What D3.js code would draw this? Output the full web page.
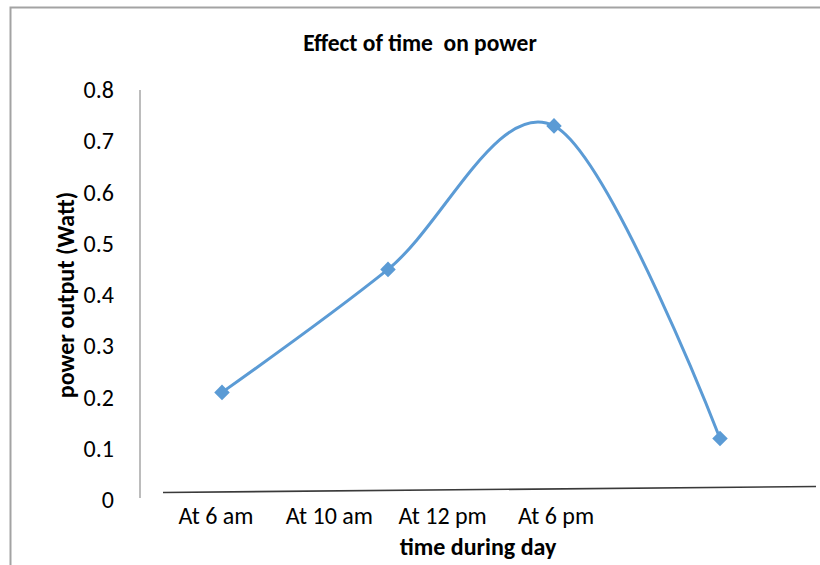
<!DOCTYPE html>
<html>
<head>
<meta charset="utf-8">
<script src="https://cdn.jsdelivr.net/npm/d3@7"></script>
<style>
  html, body { margin: 0; padding: 0; background: #fff; }
  svg { display: block; }
</style>
</head>
<body>
<svg id="chart" width="820" height="565"></svg>
<script>
// ---- data ----
const categories = ["At 6 am", "At 10 am", "At 12 pm", "At 6 pm"];
const powerValues = [0.21, 0.45, 0.73, 0.12];
const yTickValues = [0, 0.1, 0.2, 0.3, 0.4, 0.5, 0.6, 0.7, 0.8];
const yTickLabels = ["0", "0.1", "0.2", "0.3", "0.4", "0.5", "0.6", "0.7", "0.8"];
const chartTitle = "Effect of time  on power";
const xTitle = "time during day";
const yTitle = "power output (Watt)";

const svg = d3.select("#chart");
const FONT = "Carlito, Calibri, 'Open Sans', sans-serif";
const blue = "#5b9bd5";

// frame
svg.append("path")
  .attr("d", "M10.5,565 L10.5,7.5 L820,7.5")
  .attr("fill", "none").attr("stroke", "#a3a3a3").attr("stroke-width", 2);

// scales
const y = d3.scaleLinear().domain([0, 0.8]).range([500, 90]);
const xPt = d3.scalePoint().domain(categories).range([222, 720]);
const xLab = d3.scalePoint().domain(categories).range([216, 556]);

// y axis
const yAxis = d3.axisLeft(y)
  .tickValues(yTickValues)
  .tickFormat((d, i) => yTickLabels[i])
  .tickSize(0)
  .tickPadding(26);
const gy = svg.append("g").attr("transform", "translate(140,0)").call(yAxis);
gy.select(".domain").attr("stroke", "#a6a6a6").attr("stroke-width", 1.5)
  .attr("d", `M0,${y(0) - 2}V${y(0.8)}`);
gy.selectAll(".tick text")
  .attr("font-family", FONT).attr("font-size", 24).attr("fill", "#000");

// x axis line (slanted as in reference)
svg.append("line")
  .attr("x1", 163).attr("y1", 492.5)
  .attr("x2", 816).attr("y2", 486.5)
  .attr("stroke", "#3a3a3a").attr("stroke-width", 1.6);

// x labels
svg.append("g").selectAll("text")
  .data(categories).join("text")
  .attr("x", d => xLab(d)).attr("y", 524)
  .attr("text-anchor", "middle")
  .attr("font-family", FONT).attr("font-size", 24).attr("fill", "#000")
  .text(d => d);

// line
const pts = categories.map((c, i) => [xPt(c), y(powerValues[i])]);
const line = d3.line().curve(d3.curveCardinal.tension(0));
svg.append("path")
  .attr("d", line(pts))
  .attr("fill", "none").attr("stroke", blue).attr("stroke-width", 3);

// markers
svg.append("g").selectAll("path")
  .data(pts).join("path")
  .attr("transform", d => `translate(${d[0]},${d[1]}) rotate(45)`)
  .attr("d", "M-5.5,-5.5H5.5V5.5H-5.5Z")
  .attr("fill", blue);

// titles
svg.append("text")
  .attr("x", 420).attr("y", 51)
  .attr("text-anchor", "middle")
  .attr("font-family", FONT).attr("font-weight", "bold").attr("font-size", 23.5)
  .attr("xml:space", "preserve").style("white-space", "pre")
  .text(chartTitle);

svg.append("text")
  .attr("x", 478).attr("y", 555)
  .attr("text-anchor", "middle")
  .attr("font-family", FONT).attr("font-weight", "bold").attr("font-size", 24)
  .text(xTitle);

svg.append("text")
  .attr("transform", "translate(74,295) rotate(-90)")
  .attr("text-anchor", "middle")
  .attr("font-family", FONT).attr("font-weight", "bold").attr("font-size", 24)
  .text(yTitle);
</script>
</body>
</html>
